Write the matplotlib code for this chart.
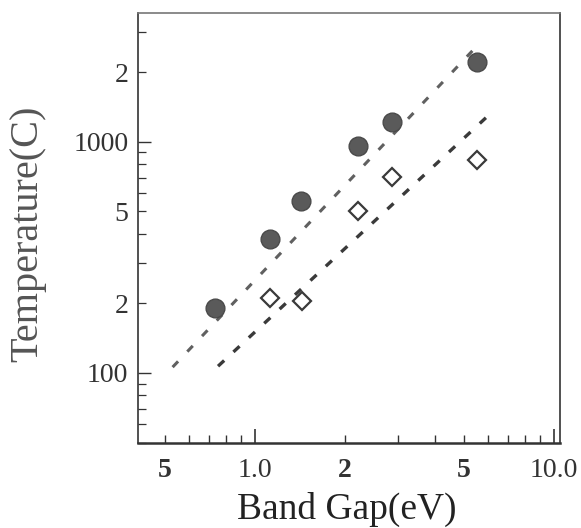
import matplotlib
matplotlib.use("Agg")
import matplotlib.pyplot as plt

plt.rcParams['font.family'] = ['Liberation Serif', 'DejaVu Serif']

# filled circles
gap_filled = [0.735, 1.12, 1.425, 2.21, 2.87, 5.53]
temp_filled = [191, 380, 555, 961, 1221, 2220]

# open diamonds
gap_open = [1.12, 1.436, 2.21, 2.87, 5.53]
temp_open = [211, 205, 502, 705, 836]

# dashed fit lines (end points)
fit_hi_x = [0.53, 5.65]
fit_hi_y = [106, 2680]
fit_lo_x = [0.752, 5.97]
fit_lo_y = [107, 1285]

x_major = [1, 10]
x_major_labels = ['1.0', '10.0']
x_minor = [0.5, 0.6, 0.7, 0.8, 0.9, 2, 3, 4, 5, 6, 7, 8, 9]
x_minor_labels = ['5', '', '', '', '', '2', '', '', '5', '', '', '', '']

y_major = [100, 1000]
y_major_labels = ['100', '1000']
y_minor = [50, 60, 70, 80, 90, 200, 300, 400, 500, 600, 700, 800, 900, 2000, 3000]
y_minor_labels = ['', '', '', '', '', '2', '', '', '5', '', '', '', '', '2', '']

fig = plt.figure(figsize=(5.81, 5.28), dpi=100)
ax = fig.add_axes([0.2375, 0.161, 0.7265, 0.814])
ax.set_xscale('log')
ax.set_yscale('log')
ax.set_xlim(0.406, 10.47)
ax.set_ylim(49.8, 3600)

ax.plot(fit_hi_x, fit_hi_y, color='#606060', lw=2.2, dashes=(2.6, 4.4))
ax.plot(fit_lo_x, fit_lo_y, color='#3a3a3a', lw=2.4, dashes=(2.5, 3.8))
ax.plot(gap_filled, temp_filled, 'o', ms=13.5, color='#5a5a5a', mec='#4a4a4a')
ax.plot(gap_open, temp_open, 'D', ms=9.5, mfc='white', mec='#3a3a3a', mew=1.6)

ax.set_xticks(x_major, x_major_labels)
ax.set_xticks(x_minor, x_minor_labels, minor=True)
ax.set_yticks(y_major, y_major_labels)
ax.set_yticks(y_minor, y_minor_labels, minor=True)

ax.tick_params(which='both', direction='in', colors='#333333', labelsize=20)
ax.tick_params(axis='x', which='major', length=10, width=1.2, pad=11)
ax.tick_params(axis='x', which='minor', length=6, width=1.0, pad=11)
ax.tick_params(axis='y', which='major', length=9, width=1.0, pad=7)
ax.tick_params(axis='y', which='minor', length=6, width=0.9, pad=7)
for lab in ax.get_xticklabels(minor=True):
    lab.set_fontweight('bold')

for side, s in ax.spines.items():
    s.set_color('#333333')
    s.set_linewidth(1.2)
ax.spines['bottom'].set_linewidth(1.8)
ax.spines['top'].set_color('#777777')

ax.set_ylabel('Temperature(C)', fontsize=29, color='#555555', va='center')
ax.yaxis.set_label_coords(-0.26, 0.486)
ax.set_xlabel('Band Gap(eV)', fontsize=27, color='#222222', va='center')
ax.xaxis.set_label_coords(0.495, -0.155)

fig.savefig('out.png', dpi=100)
